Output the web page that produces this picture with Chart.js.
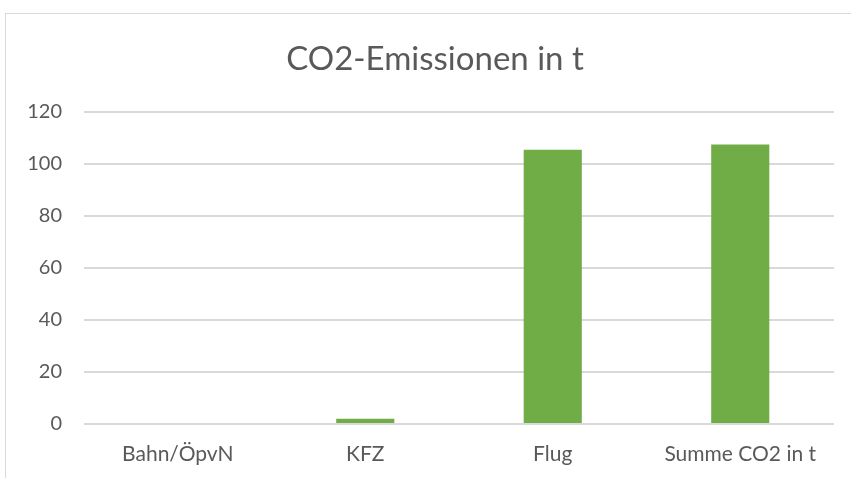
<!DOCTYPE html>
<html>
<head>
<meta charset="utf-8">
<script src="https://cdn.jsdelivr.net/npm/chart.js@4"></script>
<style>
  html, body { margin: 0; padding: 0; background: #fff; }
  #wrap { position: relative; width: 851px; height: 478px; overflow: hidden; }
  #frame { position: absolute; left: 5px; top: 13px; width: 900px; height: 500px; border: 1px solid #d9d9d9; }
  #chart { position: absolute; left: 0; top: 0; }
</style>
</head>
<body>
<div id="wrap">
  <div id="frame"></div>
  <canvas id="chart" width="851" height="478"></canvas>
</div>
<script>
// Chart data
var categories = ['Bahn/ÖpvN', 'KFZ', 'Flug', 'Summe CO2 in t'];
var emissions = [0, 2.0, 105.5, 107.5];
var chartTitle = 'CO2-Emissionen in t';

var fontFamily = 'Lato, "Open Sans", sans-serif';
var textColor = '#595959';
var gridColor = '#d9d9d9';

// the original frame runs past the right edge, so its title is centred a bit right of the canvas middle
var titlePlugin = {
  id: 'frameTitle',
  afterDraw: function(chart) {
    var c = chart.ctx;
    c.save();
    c.font = 'normal 33px ' + fontFamily;
    c.fillStyle = textColor;
    c.textAlign = 'center';
    c.textBaseline = 'middle';
    c.fillText(chartTitle, 435, 59);
    c.restore();
  }
};

var ctx = document.getElementById('chart').getContext('2d');
new Chart(ctx, {
  type: 'bar',
  data: {
    labels: categories,
    datasets: [{
      label: chartTitle,
      data: emissions,
      backgroundColor: '#70ad47',
      categoryPercentage: 1,
      barPercentage: 0.31
    }]
  },
  options: {
    responsive: false,
    animation: false,
    layout: { padding: { left: 0, right: 17, top: 112, bottom: 0 } },
    plugins: {
      legend: { display: false },
      tooltip: { enabled: false },
      title: { display: false }
    },
    scales: {
      x: {
        grid: { display: false, drawTicks: false },
        border: { display: false },
        ticks: { color: textColor, font: { family: fontFamily, size: 21 }, padding: 18 },
        afterFit: function(scale) { scale.height = 54; }
      },
      y: {
        min: 0,
        max: 120,
        ticks: { stepSize: 20, color: textColor, font: { family: fontFamily, size: 20 }, padding: 22 },
        grid: { color: gridColor, lineWidth: 2, drawTicks: false },
        border: { display: false },
        afterFit: function(scale) { scale.width = 84; }
      }
    }
  },
  plugins: [titlePlugin]
});
</script>
</body>
</html>
